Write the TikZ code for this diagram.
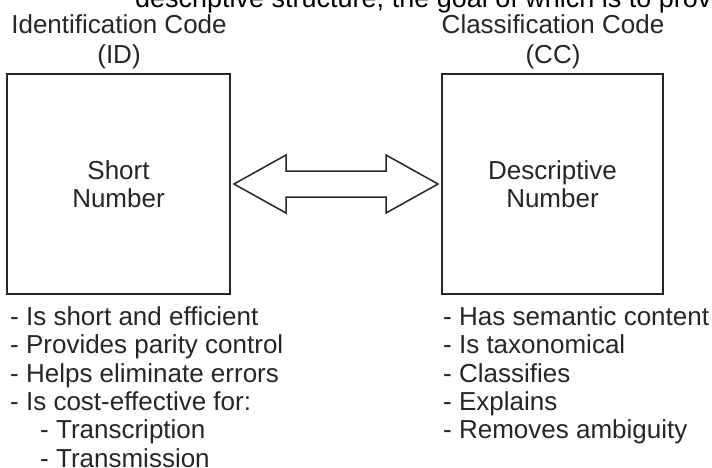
\documentclass[tikz,border=0pt]{standalone}
\usepackage{fontspec}
\setmainfont{Liberation Sans}
\usetikzlibrary{calc}
\begin{document}
\begin{tikzpicture}[x=1pt,y=-1pt,
  box/.style={draw=black!85, line width=2pt, minimum width=223pt, minimum height=220pt,
    align=center, inner sep=0pt, text=black!85, font=\fontsize{26}{28}\selectfont},
  hdr/.style={font=\fontsize{26}{30}\selectfont, text=black!85, inner sep=0pt, anchor=base},
  lst/.style={font=\fontsize{26}{28}\selectfont, text=black!85, inner sep=0pt, anchor=base west},
  dbl/.style={draw=black!85, line width=1.5pt, line join=miter, fill=white}]
\useasboundingbox (0,0) rectangle (712,467);
\clip (0,0) rectangle (712,467);
\node[anchor=base west, inner sep=0pt, font=\fontsize{27}{27}\selectfont] (top) at (135,7.5)
  {descriptive structure, the goal of which is to provi};
% headers
\node[hdr] (idh) at (119,33) {Identification Code};
\node[hdr] (idc) at (119,63) {(ID)};
\node[hdr] (cch) at (553,33) {Classification Code};
\node[hdr] (ccc) at (553,63) {(CC)};
% boxes
\node[box] (idbox) at (118.5,184) {Short\\Number};
\node[box, minimum width=221pt] (ccbox) at (552.5,184) {Descriptive\\Number};
% double arrow
\coordinate (L) at ($(idbox.east)+(3,0)$);
\coordinate (R) at ($(ccbox.west)+(-3,0)$);
\draw[dbl] (L) -- ++(52,-29) -- ++(0,16) -- ($(R)+(-52,-13)$) -- ++(0,-16) -- (R)
  -- ++(-52,29) -- ++(0,-16) -- ($(L)+(52,13)$) -- ++(0,16) -- cycle;
% left list
\node[lst] (a1) at (10,325) {- Is short and efficient};
\node[lst] (a2) at (10,353.5) {- Provides parity control};
\node[lst] (a3) at (10,382) {- Helps eliminate errors};
\node[lst] (a4) at (10,410) {- Is cost-effective for:};
\node[lst] (a5) at (40,438.5) {- Transcription};
\node[lst] (a6) at (40,467) {- Transmission};
% right list
\node[lst] (b1) at (443,325) {- Has semantic content};
\node[lst] (b2) at (443,353.5) {- Is taxonomical};
\node[lst] (b3) at (443,382) {- Classifies};
\node[lst] (b4) at (443,410) {- Explains};
\node[lst] (b5) at (443,438.5) {- Removes ambiguity};
\end{tikzpicture}
\end{document}
